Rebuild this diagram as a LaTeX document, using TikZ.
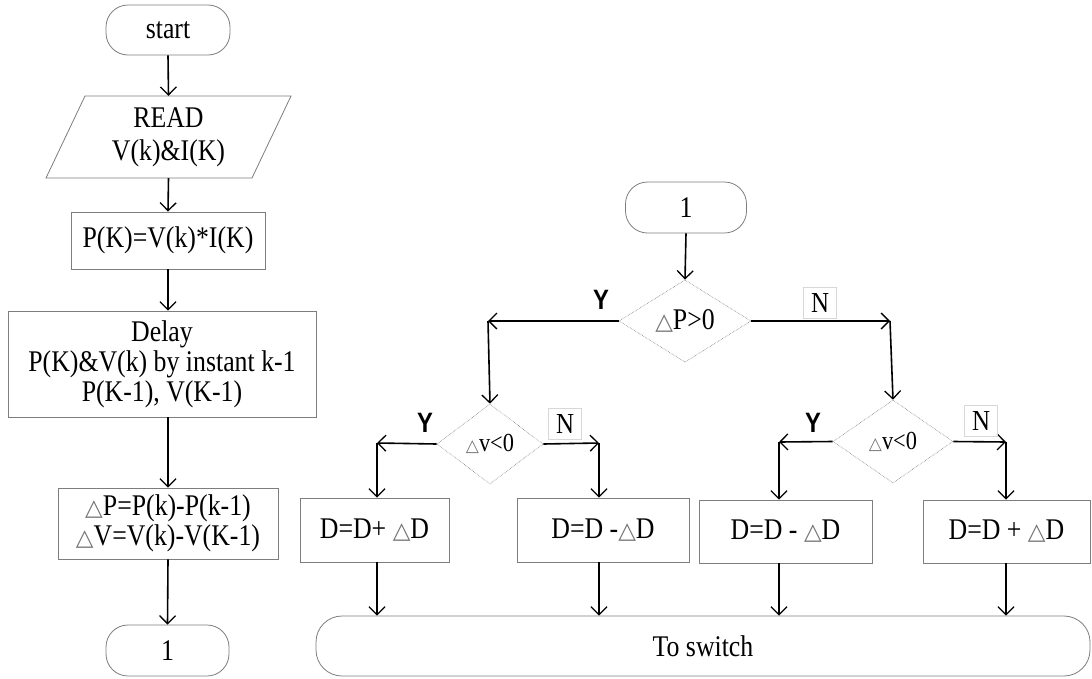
\documentclass[tikz,border=0pt]{standalone}
\usepackage{fontspec}
\setmainfont[FakeStretch=0.86]{Liberation Serif}
\newfontfamily\dvfont{DejaVu Sans}
\newfontfamily\ysans[FakeStretch=0.85]{Liberation Sans}
\usetikzlibrary{shapes.geometric,arrows.meta}
\definecolor{bordergray}{RGB}{125,125,125}
\definecolor{lightbox}{RGB}{215,215,215}
\newcommand{\tri}{{\dvfont\fontsize{23}{23}\selectfont\color{black!55}△}}
\newcommand{\trismall}{{\dvfont\fontsize{17}{17}\selectfont\color{black!55}△}}
\tikzset{
  base/.style={font=\fontsize{30}{30}\selectfont, align=center, inner sep=0pt},
  procbox/.style={base, draw=bordergray, line width=0.8pt},
  term/.style={base, draw=bordergray, line width=0.8pt, rounded corners=22pt},
  dec/.style={base, diamond, draw=bordergray, line width=0.6pt, densely dotted},
  arr/.style={line width=1.6pt, -{Straight Barb[length=8pt,width=16pt,line width=1.3pt]}},
  ylab/.style={font=\ysans\bfseries\fontsize{28}{28}\selectfont, inner sep=0pt},
  nlab/.style={font=\fontsize{29}{29}\selectfont, draw=lightbox, line width=0.6pt, inner sep=0pt, minimum width=33pt, minimum height=31pt},
}
\begin{document}
\begin{tikzpicture}[x=1pt,y=-1pt]
\useasboundingbox (0,0) rectangle (1092,678);
% left column
\node[term, minimum width=124pt, minimum height=50pt] (start) at (168,30) {start};
\node[base, font=\fontsize{30}{33}\selectfont, minimum width=206pt, minimum height=82pt] (read) at (168.5,137) {READ\\V(k)\&I(K)};
\draw[bordergray, line width=0.8pt] (85,96) -- (291,96) -- (252,178) -- (46,178) -- cycle;
\node[procbox, minimum width=194pt, minimum height=57pt] (pk) at (168,240.5) {P(K)=V(k)*I(K)};
\node[procbox, minimum width=308pt, minimum height=106pt] (delay) at (162,364) {Delay\\P(K)\&V(k) by instant k-1\\P(K-1), V(K-1)};
\node[procbox, minimum width=220pt, minimum height=71pt] (dp) at (168,523.5) {\tri P=P(k)-P(k-1)\\\tri V=V(k)-V(K-1)};
\node[term, minimum width=123pt, minimum height=51pt] (l1) at (167.5,650.5) {1};
\draw[arr] (start.south) -- (read.north);
\draw[arr] (read.south) -- (pk.north);
\draw[arr] (pk.south) -- (pk.south |- delay.north);
\draw[arr] (pk.south |- delay.south) -- (dp.north);
\draw[arr] (dp.south) -- (l1.north);
% right part
\node[term, minimum width=121pt, minimum height=51pt] (l2) at (686,207.5) {1};
\node[dec, minimum width=132pt, minimum height=81pt] (d0) at (685,321) {\tri P>0};
\node[dec, minimum width=106pt, minimum height=80pt, font=\fontsize{26}{26}\selectfont] (d1) at (490,444) {\trismall v<0};
\node[dec, minimum width=120pt, minimum height=83pt, font=\fontsize{26}{26}\selectfont] (d2) at (893,441.5) {\trismall v<0};
\coordinate (c1) at (488,321);
\coordinate (c2) at (890,321);
\coordinate (c3) at (377,443);
\coordinate (c4) at (599,443);
\coordinate (c5) at (779,442);
\coordinate (c6) at (1006,442);
\node[procbox, minimum width=149pt, minimum height=64pt] (b1) at (374.5,530) {D=D+ \tri D};
\node[procbox, minimum width=172pt, minimum height=64pt] (b2) at (603,530) {D=D -\tri D};
\node[procbox, minimum width=173pt, minimum height=63pt] (b3) at (785.5,531.5) {D=D - \tri D};
\node[procbox, minimum width=167pt, minimum height=63pt] (b4) at (1006.5,531.5) {D=D + \tri D};
\node[term, rounded corners=26pt, minimum width=774pt, minimum height=60pt] (sw) at (703,646) {To switch};
\draw[arr] (l2.south) -- (d0.north);
\draw[arr] (d0.west) -- (c1);
\draw[arr] (c1) -- (d1.north);
\draw[arr] (d0.east) -- (c2);
\draw[arr] (c2) -- (d2.north);
\draw[arr] (d1.west) -- (c3);
\draw[arr] (c3) -- (c3 |- b1.north);
\draw[arr] (d1.east) -- (c4);
\draw[arr] (c4) -- (c4 |- b2.north);
\draw[arr] (d2.west) -- (c5);
\draw[arr] (c5) -- (c5 |- b3.north);
\draw[arr] (d2.east) -- (c6);
\draw[arr] (c6) -- (c6 |- b4.north);
\draw[arr] (c3 |- b1.south) -- (c3 |- sw.north);
\draw[arr] (c4 |- b2.south) -- (c4 |- sw.north);
\draw[arr] (c5 |- b3.south) -- (c5 |- sw.north);
\draw[arr] (c6 |- b4.south) -- (c6 |- sw.north);
% labels
\node[ylab] (y0) at (601,300) {Y};
\node[nlab] (n0) at (820,303) {N};
\node[ylab] (y1) at (425,423) {Y};
\node[nlab] (n1) at (565,424) {N};
\node[ylab] (y2) at (813,423) {Y};
\node[nlab] (n2) at (981,421) {N};
\end{tikzpicture}
\end{document}
